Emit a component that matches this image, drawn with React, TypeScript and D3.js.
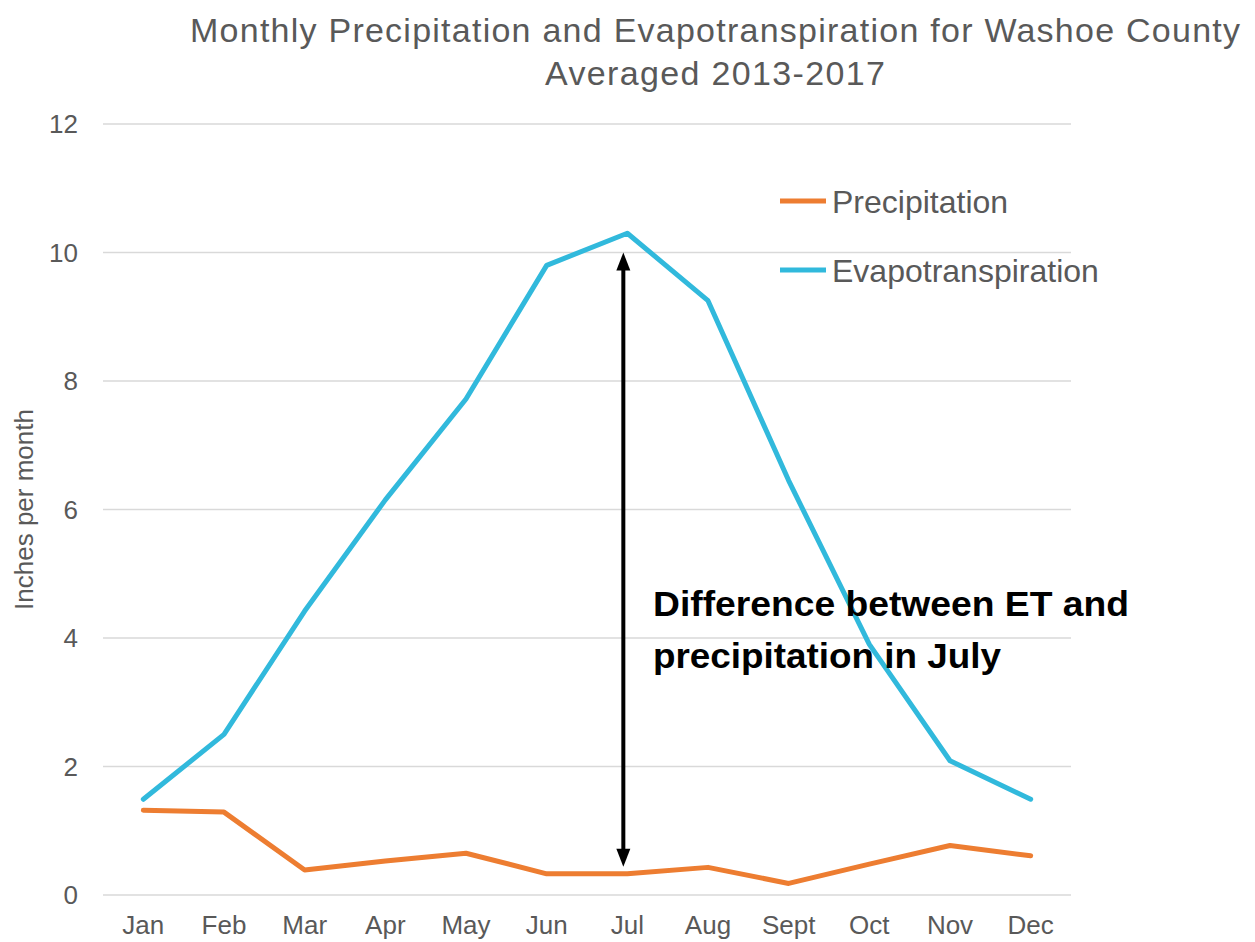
import * as d3 from "d3";

const months = ["Jan", "Feb", "Mar", "Apr", "May", "Jun", "Jul", "Aug", "Sept", "Oct", "Nov", "Dec"];
const precipitation = [1.32, 1.29, 0.39, 0.53, 0.65, 0.33, 0.33, 0.43, 0.18, 0.48, 0.77, 0.61];
const evapotranspiration = [1.49, 2.5, 4.42, 6.15, 7.72, 9.8, 10.3, 9.25, 6.45, 3.9, 2.09, 1.49];
const yTicks = [0, 2, 4, 6, 8, 10, 12];
// arrow spans from top value down to bottom value at July
const arrowMonth = "Jul";
const arrowRange = [10.0, 0.44];

const W = 1255;
const H = 942;
const gray = "#595959";
const orange = "#ED7D31";
const blue = "#31B9DC";
const font = "'Liberation Sans', Arial, sans-serif";

export default function App() {
  const x = d3.scaleBand<string>().domain(months).range([103, 1071]);
  const y = d3.scaleLinear().domain([0, 12]).range([895, 124]);
  const cx = (m: string) => (x(m) ?? 0) + x.bandwidth() / 2;

  const line = d3
    .line<number>()
    .x((_, i) => cx(months[i]))
    .y((d) => y(d));

  const ax = cx(arrowMonth) - 4;
  const aTop = y(arrowRange[0]);
  const aBot = y(arrowRange[1]);

  return (
    <svg
      width={W}
      height={H}
      style={{ position: "absolute", left: 0, top: 0, fontFamily: font }}
    >
      <rect width={W} height={H} fill="#fff" />
      <text x={715} y={42} fontSize={34} fill={gray} textAnchor="middle" textLength={1050} lengthAdjust="spacing">
        Monthly Precipitation and Evapotranspiration for Washoe County
      </text>
      <text x={715} y={85} fontSize={34} fill={gray} textAnchor="middle" textLength={340} lengthAdjust="spacing">
        Averaged 2013-2017
      </text>

      {yTicks.map((t) => (
        <g key={t}>
          <line x1={103} x2={1071} y1={y(t)} y2={y(t)} stroke="#d9d9d9" strokeWidth={1.5} />
          <text x={78} y={y(t)} dy="0.36em" fontSize={26} fill={gray} textAnchor="end">
            {t}
          </text>
        </g>
      ))}

      {months.map((m) => (
        <text key={m} x={cx(m)} y={934} fontSize={26} fill={gray} textAnchor="middle">
          {m}
        </text>
      ))}

      <text
        transform={`translate(33,${y(6)}) rotate(-90)`}
        fontSize={26}
        fill={gray}
        textAnchor="middle"
      >
        Inches per month
      </text>

      <path d={line(evapotranspiration) ?? ""} fill="none" stroke={blue} strokeWidth={5} strokeLinejoin="round" strokeLinecap="round" />
      <path d={line(precipitation) ?? ""} fill="none" stroke={orange} strokeWidth={5} strokeLinejoin="round" strokeLinecap="round" />

      <line x1={ax} x2={ax} y1={aTop + 16} y2={aBot - 16} stroke="#000" strokeWidth={4} />
      <path d={`M${ax},${aTop} L${ax - 7},${aTop + 18} L${ax + 7},${aTop + 18} Z`} fill="#000" />
      <path d={`M${ax},${aBot} L${ax - 7},${aBot - 18} L${ax + 7},${aBot - 18} Z`} fill="#000" />

      <text x={653} y={616} fontSize={35} fontWeight="bold" fill="#000" textLength={476} lengthAdjust="spacingAndGlyphs">
        Difference between ET and
      </text>
      <text x={653} y={668} fontSize={35} fontWeight="bold" fill="#000" textLength={348} lengthAdjust="spacingAndGlyphs">
        precipitation in July
      </text>

      <line x1={780} x2={826} y1={201} y2={201} stroke={orange} strokeWidth={5} />
      <text x={832} y={201} dy="0.36em" fontSize={32} fill={gray}>
        Precipitation
      </text>
      <line x1={780} x2={826} y1={270} y2={270} stroke={blue} strokeWidth={5} />
      <text x={832} y={270} dy="0.36em" fontSize={32} fill={gray}>
        Evapotranspiration
      </text>
    </svg>
  );
}
